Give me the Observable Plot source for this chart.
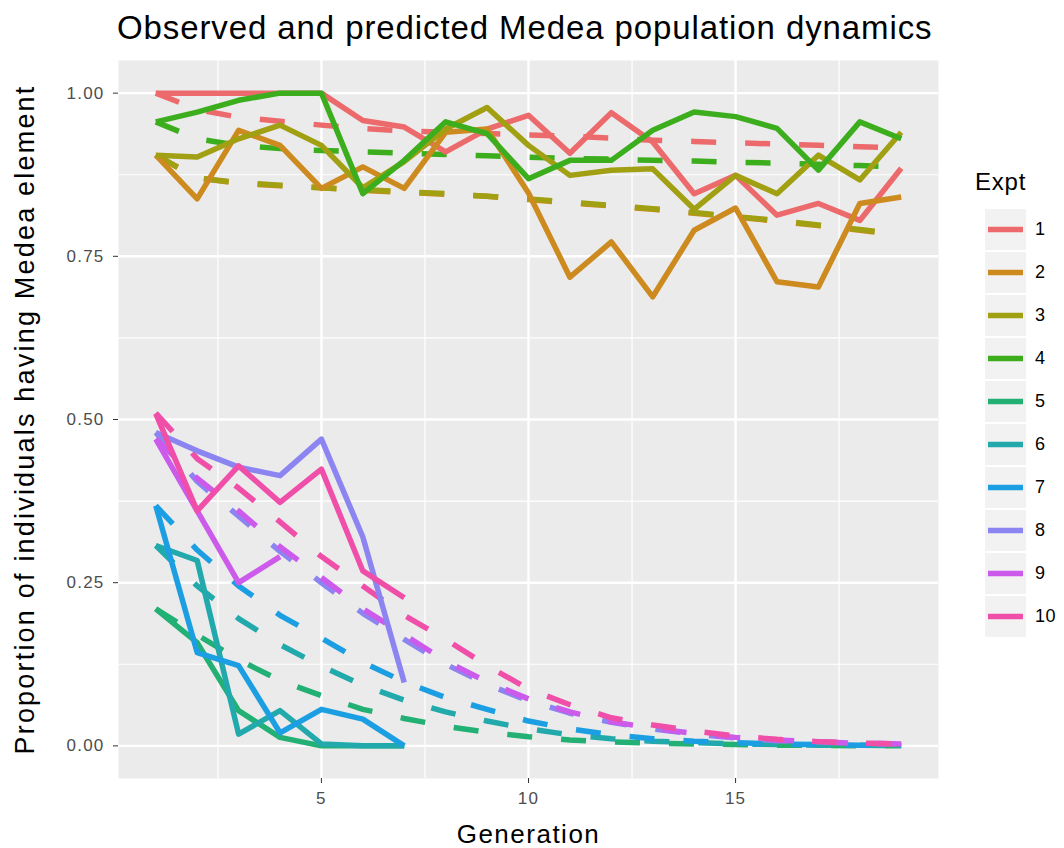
<!DOCTYPE html>
<html>
<head>
<meta charset="utf-8">
<script src="https://cdn.jsdelivr.net/npm/d3@7"></script>
<script src="https://cdn.jsdelivr.net/npm/@observablehq/plot@0.6"></script>
<style>
  body { margin: 0; background: #fff; }
  #wrap { position: relative; width: 1064px; height: 848px; font-family: "Liberation Sans", Arial, Helvetica, sans-serif; }
  #wrap svg.plot { position: absolute; left: 0; top: 0; }
  #title { position: absolute; left: 117px; top: 9px; font-size: 33px; color: #000; white-space: nowrap; letter-spacing: 0.9px; }
  #legend { position: absolute; left: 975px; top: 168px; }
  #legend .lt { font-size: 24px; color: #000; height: 40px; letter-spacing: 0.8px; }
  #legend .row { display: flex; align-items: center; height: 43px; }
  #legend .key { width: 43px; height: 43px; background: #F2F2F2; box-sizing: border-box; border: 1px solid #fff; margin-left: 9px; }
  #legend .lab { font-size: 18px; color: #000; margin-left: 8px; letter-spacing: 0.5px; }
</style>
</head>
<body>
<div id="wrap">
  <div id="title">Observed and predicted Medea population dynamics</div>
  <div id="legend"></div>
</div>
<script>
// ---- data ----
const expts = ["1","2","3","4","5","6","7","8","9","10"];
const colors = ["#EC6A6C","#CD8A1F","#A19F12","#3CAE1E","#22B074","#22A9AC","#1C9FE2","#8C84F0","#CC5AEB","#EF4FA8"];
const generations = [1,2,3,4,5,6,7,8,9,10,11,12,13,14,15,16,17,18,19];
const xTicks = [5, 10, 15];
const xMinor = [2.5, 7.5, 12.5, 17.5];
const yTicks = [0, 0.25, 0.5, 0.75, 1];
const yMinor = [0.125, 0.375, 0.625, 0.875];

// observed proportions, per experiment (generation 1 onward)
const obs1  = [1.0,1.0,1.0,1.0,1.0,0.958,0.948,0.91,0.945,0.966,0.908,0.97,0.925,0.846,0.874,0.813,0.831,0.805,0.885];
const obs2  = [0.905,0.838,0.943,0.92,0.854,0.887,0.854,0.94,0.945,0.847,0.718,0.772,0.688,0.79,0.824,0.711,0.703,0.831,0.841];
const obs3  = [0.905,0.902,0.93,0.951,0.92,0.855,0.895,0.945,0.978,0.92,0.874,0.882,0.884,0.822,0.874,0.846,0.905,0.867,0.94];
const obs4  = [0.956,0.971,0.989,1.0,1.0,0.846,0.897,0.956,0.938,0.869,0.897,0.897,0.943,0.971,0.964,0.946,0.882,0.956,0.93];
const obs5  = [0.21,0.158,0.054,0.013,0,0,0];
const obs6  = [0.307,0.284,0.018,0.054,0.003,0,0];
const obs7  = [0.368,0.143,0.123,0.02,0.056,0.041,0];
const obs8  = [0.48,0.452,0.427,0.414,0.47,0.32,0.097];
const obs9  = [0.47,0.36,0.25,0.29];
const obs10 = [0.509,0.36,0.429,0.373,0.424,0.268,0.227];

// predicted proportions, generations 1..19
const pred1  = [1.0,0.975,0.963,0.957,0.951,0.946,0.942,0.94,0.938,0.936,0.934,0.931,0.928,0.926,0.924,0.922,0.92,0.918,0.916];
const pred2  = [0.905,0.87,0.862,0.858,0.855,0.851,0.848,0.845,0.842,0.837,0.832,0.827,0.822,0.816,0.81,0.804,0.797,0.79,0.782];
const pred3  = [0.905,0.87,0.863,0.859,0.855,0.852,0.849,0.846,0.842,0.838,0.833,0.828,0.823,0.817,0.811,0.805,0.798,0.791,0.784];
const pred4  = [0.956,0.93,0.92,0.915,0.912,0.91,0.908,0.906,0.904,0.902,0.9,0.899,0.897,0.896,0.894,0.893,0.891,0.889,0.887];
const pred5  = [0.21,0.17,0.132,0.1,0.077,0.056,0.042,0.03,0.021,0.014,0.009,0.006,0.004,0.003,0.002,0.001,0.001,0.0,0.0];
const pred6  = [0.307,0.245,0.195,0.155,0.122,0.093,0.07,0.052,0.038,0.026,0.017,0.011,0.007,0.005,0.003,0.002,0.001,0.001,0.0];
const pred7  = [0.368,0.3,0.245,0.2,0.165,0.128,0.098,0.074,0.056,0.038,0.026,0.017,0.011,0.007,0.005,0.003,0.002,0.001,0.001];
const pred8  = [0.48,0.405,0.352,0.298,0.25,0.203,0.163,0.125,0.094,0.069,0.05,0.036,0.026,0.018,0.012,0.008,0.006,0.004,0.003];
const pred9  = [0.47,0.41,0.36,0.305,0.258,0.21,0.17,0.13,0.098,0.072,0.052,0.037,0.027,0.019,0.013,0.009,0.006,0.004,0.003];
const pred10 = [0.51,0.44,0.395,0.343,0.29,0.245,0.2,0.163,0.123,0.087,0.063,0.043,0.032,0.023,0.015,0.01,0.0065,0.004,0.003];

const observed = [obs1,obs2,obs3,obs4,obs5,obs6,obs7,obs8,obs9,obs10];
const predicted = [pred1,pred2,pred3,pred4,pred5,pred6,pred7,pred8,pred9,pred10];

function tidy(arrs) {
  const rows = [];
  arrs.forEach((vals, i) => vals.forEach((v, j) => rows.push({expt: expts[i], gen: generations[j], value: v})));
  return rows;
}
const obsRows = tidy(observed);
const predRows = tidy(predicted);

const font = '"Liberation Sans", Arial, Helvetica, sans-serif';

const chart = Plot.plot({
  width: 1064,
  height: 848,
  marginLeft: 118,
  marginRight: 126,
  marginTop: 60,
  marginBottom: 70,
  style: { fontFamily: font, background: "transparent", overflow: "visible" },
  x: { domain: [0.1, 19.9] },
  y: { domain: [-0.05, 1.05] },
  color: { domain: expts, range: colors },
  marks: [
    Plot.frame({ fill: "#EBEBEB", stroke: null }),
    Plot.gridX(xMinor, { stroke: "#fff", strokeOpacity: 1, strokeWidth: 1.2 }),
    Plot.gridY(yMinor, { stroke: "#fff", strokeOpacity: 1, strokeWidth: 1.2 }),
    Plot.gridX(xTicks, { stroke: "#fff", strokeOpacity: 1, strokeWidth: 2.4 }),
    Plot.gridY(yTicks, { stroke: "#fff", strokeOpacity: 1, strokeWidth: 2.4 }),
    Plot.axisX({ ticks: xTicks, tickSize: 5, tickPadding: 8, fontSize: 17, color: "#4D4D4D", stroke: "#333",
      label: "Generation", labelAnchor: "center", labelArrow: "none", labelOffset: 64 }),
    Plot.axisY({ ticks: yTicks, tickSize: 5, tickPadding: 9, fontSize: 17, color: "#4D4D4D", stroke: "#333",
      tickFormat: d3.format(".2f"),
      label: "Proportion of individuals having Medea element", labelAnchor: "center", labelArrow: "none", labelOffset: 104 }),
    Plot.line(predRows, { x: "gen", y: "value", z: "expt", stroke: "expt", strokeWidth: 5.5,
      strokeDasharray: "25,29", strokeLinejoin: "round", strokeLinecap: "butt" }),
    Plot.line(obsRows, { x: "gen", y: "value", z: "expt", stroke: "expt", strokeWidth: 5.5,
      strokeLinejoin: "round", strokeLinecap: "butt" })
  ]
});
chart.classList.add("plot");
// axis text styling
d3.select(chart).selectAll("[aria-label='x-axis tick label'] text, [aria-label='y-axis tick label'] text")
  .style("letter-spacing", "1.2px");
d3.select(chart).selectAll("[aria-label='x-axis label'] text")
  .style("font-size", "26px").style("letter-spacing", "1.5px").attr("fill", "#000");
d3.select(chart).selectAll("[aria-label='y-axis label'] text")
  .style("font-size", "27px").style("letter-spacing", "2.2px").attr("fill", "#000");
document.getElementById("wrap").prepend(chart);

// legend built from the same arrays
const legend = d3.select("#legend");
legend.append("div").attr("class", "lt").text("Expt");
expts.forEach((e, i) => {
  const row = legend.append("div").attr("class", "row");
  const key = row.append("div").attr("class", "key");
  key.append("svg").attr("width", 41).attr("height", 41)
    .append("line").attr("x1", 3).attr("x2", 38).attr("y1", 20.5).attr("y2", 20.5)
    .attr("stroke", colors[i]).attr("stroke-width", 5.5);
  row.append("div").attr("class", "lab").text(e);
});
</script>
</body>
</html>
